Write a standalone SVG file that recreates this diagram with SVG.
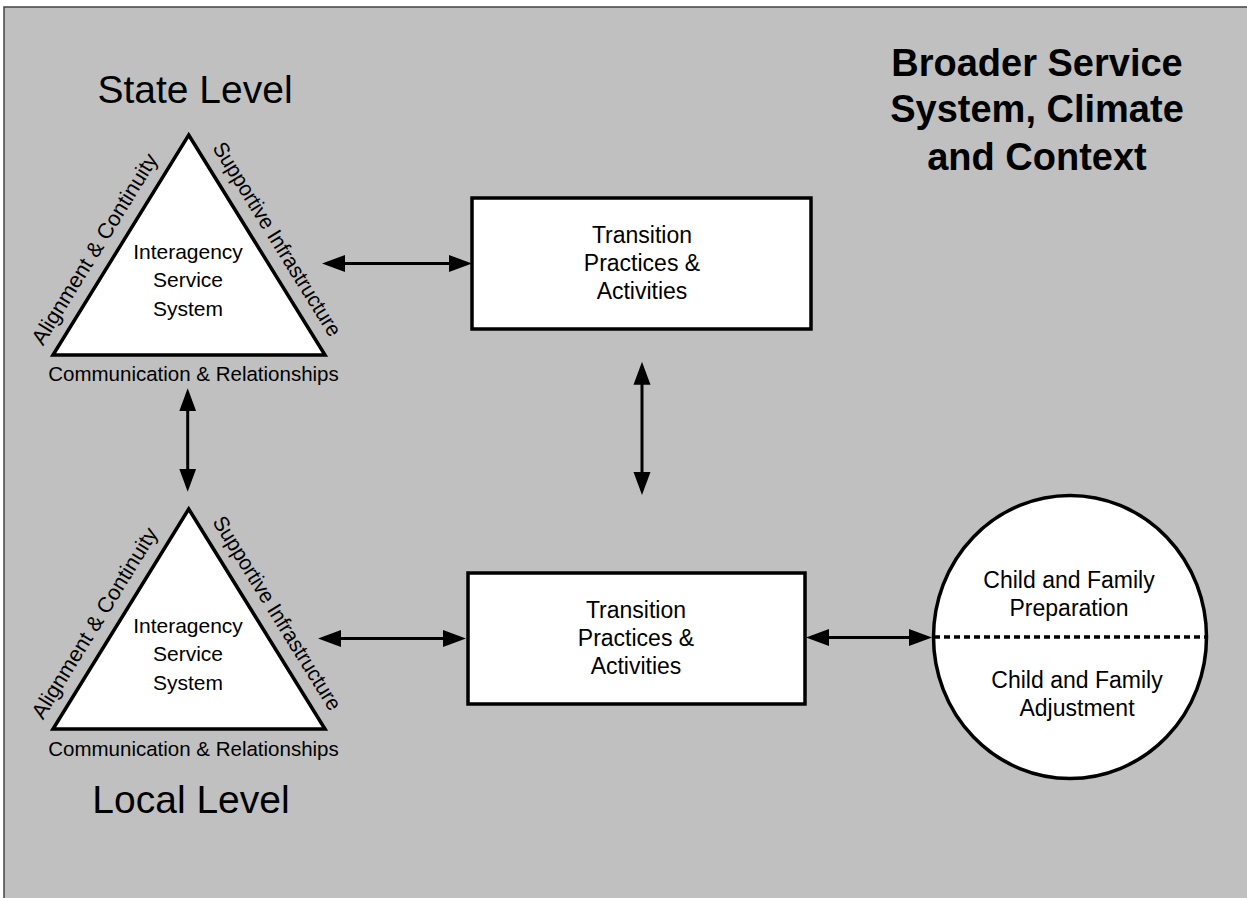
<svg xmlns="http://www.w3.org/2000/svg" width="1247" height="898" viewBox="0 0 1247 898">
  <style>
    text { font-family: "Liberation Sans", Arial, sans-serif; fill: #000; }
    .shape { fill: #fff; stroke: #000; stroke-width: 3.5; }
    .lvl { font-size: 39px; text-anchor: middle; }
    .ttl { font-size: 38px; font-weight: bold; text-anchor: middle; }
    .mid { font-size: 21px; text-anchor: middle; }
    .com { font-size: 20.5px; text-anchor: middle; }
    .side { font-size: 21.5px; text-anchor: middle; }
    .box { font-size: 23px; text-anchor: middle; }
    .conn { stroke: #000; stroke-width: 3; fill: none; marker-start: url(#ah); marker-end: url(#ah); }
  </style>
  <defs>
    <marker id="ah" markerUnits="userSpaceOnUse" markerWidth="24" markerHeight="18" refX="12" refY="8.5" orient="auto-start-reverse" viewBox="0 0 24 17">
      <path d="M0,0 L23,8.5 L0,17 Z" fill="#000"/>
    </marker>
  </defs>

  <rect x="0" y="0" width="1247" height="898" fill="#fff"/>
  <rect id="background" x="4" y="7" width="1300" height="1000" fill="#c0c0c0" stroke="#444" stroke-width="1.5"/>

  <g id="title">
    <text class="ttl" x="1037" y="76">Broader Service</text>
    <text class="ttl" x="1037" y="122">System, Climate</text>
    <text class="ttl" x="1037" y="170">and Context</text>
  </g>

  <g id="state-level">
    <text class="lvl" x="195" y="103">State Level</text>
    <polygon class="shape" points="188.7,135 325,355 53,355"/>
    <text class="mid" x="188" y="259">Interagency</text>
    <text class="mid" x="188" y="287">Service</text>
    <text class="mid" x="188" y="316">System</text>
    <text class="side" transform="translate(100.7,252.8) rotate(-58.3)" textLength="220" lengthAdjust="spacingAndGlyphs">Alignment &amp; Continuity</text>
    <text class="side" transform="translate(271,242.9) rotate(58.2)" textLength="224" lengthAdjust="spacingAndGlyphs">Supportive Infrastructure</text>
    <text class="com" x="193.5" y="381">Communication &amp; Relationships</text>
  </g>

  <g id="local-level">
    <polygon class="shape" points="188.7,509 325,729 53,729"/>
    <text class="mid" x="188" y="633">Interagency</text>
    <text class="mid" x="188" y="661">Service</text>
    <text class="mid" x="188" y="690">System</text>
    <text class="side" transform="translate(100.7,626.8) rotate(-58.3)" textLength="220" lengthAdjust="spacingAndGlyphs">Alignment &amp; Continuity</text>
    <text class="side" transform="translate(271,616.9) rotate(58.2)" textLength="224" lengthAdjust="spacingAndGlyphs">Supportive Infrastructure</text>
    <text class="com" x="193.5" y="756">Communication &amp; Relationships</text>
    <text class="lvl" x="191" y="813">Local Level</text>
  </g>

  <g id="practices-state">
    <rect class="shape" x="472" y="198" width="339" height="131"/>
    <text class="box" x="642" y="243">Transition</text>
    <text class="box" x="642" y="271">Practices &amp;</text>
    <text class="box" x="642" y="299">Activities</text>
  </g>

  <g id="practices-local">
    <rect class="shape" x="468" y="573" width="337" height="131"/>
    <text class="box" x="636" y="618">Transition</text>
    <text class="box" x="636" y="646">Practices &amp;</text>
    <text class="box" x="636" y="674">Activities</text>
  </g>

  <g id="child-family">
    <ellipse class="shape" cx="1070" cy="637" rx="136.5" ry="141.5" stroke-width="3"/>
    <line x1="934" y1="637" x2="1206" y2="637" stroke="#000" stroke-width="3.5" stroke-dasharray="6,4"/>
    <text class="box" x="1069" y="588">Child and Family</text>
    <text class="box" x="1069" y="616">Preparation</text>
    <text class="box" x="1077" y="688">Child and Family</text>
    <text class="box" x="1077" y="716">Adjustment</text>
  </g>

  <g id="connectors">
    <path class="conn" d="M333,263.5 L461,263.5"/>
    <path class="conn" d="M642,372.7 L642,484"/>
    <path class="conn" d="M187.7,399.3 L187.7,480.7"/>
    <path class="conn" d="M329,638.5 L455,638.5"/>
    <path class="conn" d="M817,637.5 L921,637.5"/>
  </g>
</svg>
